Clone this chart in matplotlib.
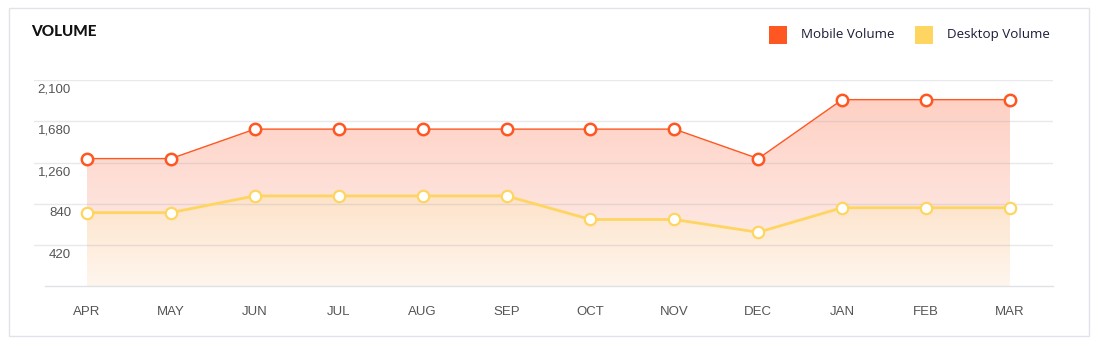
import numpy as np
import matplotlib
matplotlib.use("Agg")
import matplotlib.pyplot as plt
from matplotlib.patches import Rectangle, Polygon
from matplotlib.colors import to_rgb

months = ["APR", "MAY", "JUN", "JUL", "AUG", "SEP", "OCT", "NOV", "DEC", "JAN", "FEB", "MAR"]
mobile = [1300, 1300, 1600, 1600, 1600, 1600, 1600, 1600, 1300, 1900, 1900, 1900]
desktop = [750, 750, 920, 920, 920, 920, 680, 680, 550, 800, 800, 800]
yticks = [420, 840, 1260, 1680, 2100]
ytick_labels = ["420", "840", "1,260", "1,680", "2,100"]
series_names = ["Mobile Volume", "Desktop Volume"]
title = "VOLUME"

MOBILE_C = "#ff5722"
DESKTOP_C = "#ffd561"

W, H = 1103, 345
fig = plt.figure(figsize=(W / 100, H / 100), dpi=100)
fig.patch.set_facecolor("white")

# card border
fig.add_artist(Rectangle((9 / W, 1 - 336 / H), (1089 - 9) / W, (336 - 8) / H,
                         transform=fig.transFigure, fill=False, ec="#e2e2ea", lw=1))

ax_l, ax_r = 34, 1053
ax_top, ax_bot = 80, 286.3
ax = fig.add_axes([ax_l / W, 1 - ax_bot / H, (ax_r - ax_l) / W, (ax_bot - ax_top) / H])
px_per_unit = (1010 - 87) / 11
x0 = (ax_l - 87) / px_per_unit
x1 = (ax_r - 87) / px_per_unit
ax.set_xlim(x0, x1)
ax.set_ylim(0, 2100)
ax.axis("off")

x = np.arange(len(months))


def grad_fill(yvals, c_top, y_top, c_bot, y_bot, z):
    ny = 400
    ys = np.linspace(0, 2100, ny)
    ct = np.array(to_rgb(c_top))
    cb = np.array(to_rgb(c_bot))
    t = (ys - y_bot) / (y_top - y_bot)
    cols = cb[None, :] + t[:, None] * (ct - cb)[None, :]
    cols = np.clip(cols, 0, 1)
    img = np.repeat(cols[:, None, :], 2, axis=1)
    im = ax.imshow(img, extent=[x[0], x[-1], 0, 2100], origin="lower",
                   aspect="auto", zorder=z, interpolation="bilinear")
    verts = [(x[0], 0)] + list(zip(x, yvals)) + [(x[-1], 0)]
    poly = Polygon(verts, closed=True, transform=ax.transData, facecolor="none", edgecolor="none")
    ax.add_patch(poly)
    im.set_clip_path(poly)


grad_fill(mobile, "#ffcdbf", 2100, "#fdf1ee", 0, 1)
grad_fill(desktop, "#fde2c8", 950, "#fff6ee", 0, 2)

# gridlines
for v in yticks:
    ax.axhline(v, color="#9a9ab0", alpha=0.22, lw=1, zorder=3)
ax.plot([(45 - 87) / px_per_unit, x1], [0, 0], color="#9a9ab0", alpha=0.3, lw=1, zorder=3,
        clip_on=False)

# lines
ax.plot(x, mobile, color=MOBILE_C, lw=1.0, zorder=5, marker="o", ms=8.2, mfc="white",
        mec=MOBILE_C, mew=1.8, clip_on=False)
ax.plot(x, desktop, color=DESKTOP_C, lw=2.0, zorder=4, marker="o", ms=8.2, mfc="white",
        mec=DESKTOP_C, mew=1.6, clip_on=False)

# y tick labels (below gridlines)
xl = (71 - 87) / px_per_unit
for v, lbl in zip(yticks, ytick_labels):
    ax.annotate(lbl, xy=(xl, v), xytext=(0, -9.5 * 0.72), textcoords="offset points",
                ha="right", va="center", fontsize=9.5, color="#555555",
                family="Liberation Sans")

# x labels
for i, m in enumerate(months):
    ax.annotate(m, xy=(i, 0), xytext=(0, -25.5 * 0.72), textcoords="offset points",
                ha="center", va="center", fontsize=9.5, color="#555555",
                family="Liberation Sans", annotation_clip=False)

# title
fig.text(31 / W, 1 - 32.5 / H, title, ha="left", va="center", fontsize=11,
         fontweight="black", family="Lato", color="#111111")

# legend
for (sx, tx, c, name) in [(769, 801, MOBILE_C, series_names[0]),
                          (915, 947, DESKTOP_C, series_names[1])]:
    fig.add_artist(Rectangle((sx / W, 1 - 43.7 / H), 18 / W, 18 / H,
                             transform=fig.transFigure, fc=c, ec="none"))
    fig.text(tx / W, 1 - 34.5 / H, name, ha="left", va="center", fontsize=9.6,
             family="Open Sans", color="#1c1c3a")

fig.savefig("out.png", dpi=100, facecolor="white")
